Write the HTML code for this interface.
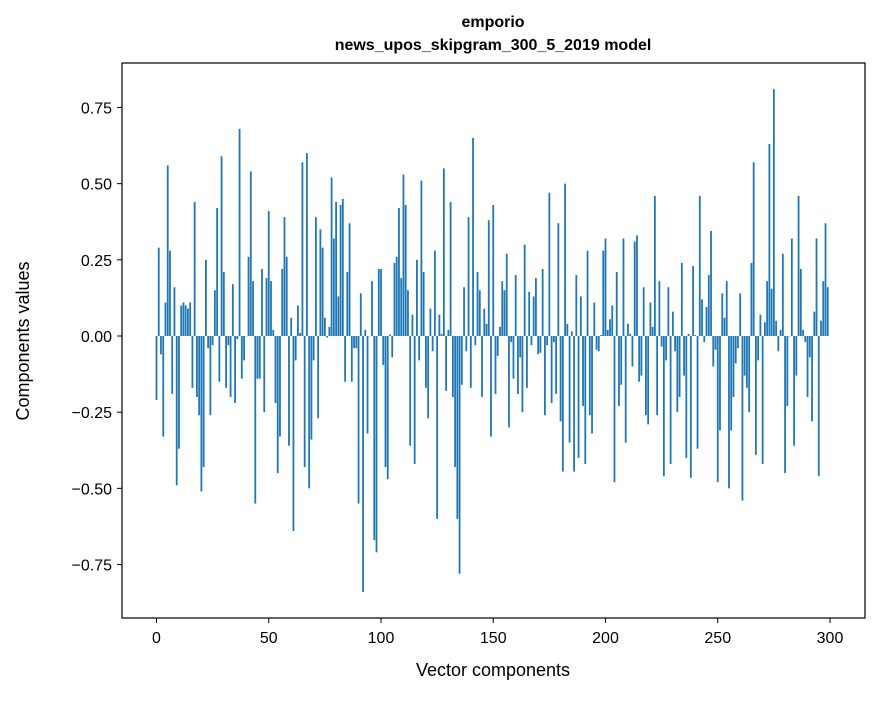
<!DOCTYPE html>
<html><head><meta charset="utf-8"><style>
body{margin:0;background:#fff;}
svg text{font-family:"Liberation Sans",sans-serif;fill:#000;}
</style></head><body>
<svg id="chart" width="880" height="696">
<rect x="0" y="0" width="880" height="696" fill="#fff"/>
<text x="493" y="27" text-anchor="middle" font-size="16" font-weight="bold">emporio</text>
<text x="493" y="50" text-anchor="middle" font-size="16" font-weight="bold">news_upos_skipgram_300_5_2019 model</text>
<g id="bars"></g>
<g id="axes"></g>
<rect x="122" y="63" width="743" height="555" fill="none" stroke="#000" stroke-width="1.2"/>
<text x="493" y="676" text-anchor="middle" font-size="18">Vector components</text>
<text x="0" y="0" transform="translate(29,341) rotate(-90)" text-anchor="middle" font-size="18">Components values</text>
</svg>
<script>
const values = [
-0.21,0.29,-0.06,-0.33,0.11,0.56,0.28,-0.19,0.16,-0.49,-0.37,0.10,0.11,0.10,0.09,0.11,-0.17,0.44,-0.20,-0.26,
-0.51,-0.43,0.25,-0.04,-0.26,-0.03,0.15,0.42,-0.15,0.59,0.21,-0.17,-0.03,-0.20,0.17,-0.22,-0.01,0.68,-0.14,-0.08,
0.0,0.26,0.54,0.18,-0.55,-0.14,-0.14,0.22,-0.25,0.19,0.41,0.18,0.02,-0.22,-0.45,-0.33,0.22,0.39,0.26,-0.36,
0.06,-0.64,-0.08,0.10,0.01,0.57,-0.43,0.60,-0.50,-0.34,-0.08,0.39,-0.27,0.35,0.29,0.06,-0.005,0.03,0.52,0.32,
0.44,0.13,0.43,0.45,-0.15,0.21,0.37,-0.15,-0.04,-0.04,-0.55,0.14,-0.84,0.02,-0.32,0.0,0.18,-0.67,-0.71,0.22,
0.22,-0.095,-0.43,-0.47,0.005,-0.07,0.24,0.26,0.42,0.19,0.53,0.43,0.15,-0.36,0.07,-0.42,0.25,-0.08,0.51,0.21,
-0.17,-0.27,0.09,-0.05,0.28,-0.60,0.07,0.007,0.55,-0.18,0.02,0.44,-0.20,-0.43,-0.60,-0.78,-0.16,0.16,-0.05,0.39,
-0.17,0.65,-0.03,0.21,0.15,-0.20,0.09,0.04,0.38,-0.33,0.43,-0.19,-0.065,0.03,0.18,0.15,0.27,-0.30,-0.02,-0.14,
0.20,-0.19,-0.07,-0.25,0.30,-0.17,0.145,-0.03,0.13,0.19,-0.06,-0.055,0.22,-0.26,-0.03,0.47,-0.22,-0.02,-0.19,0.37,
-0.28,-0.445,0.50,0.04,-0.35,0.015,-0.445,0.20,-0.40,0.13,-0.23,-0.42,0.28,-0.26,-0.32,0.11,-0.045,-0.05,0.003,0.28,
0.32,0.02,0.055,0.10,-0.48,0.21,-0.23,-0.16,0.32,-0.35,0.04,0.007,-0.10,0.31,0.33,-0.15,-0.13,0.16,-0.26,-0.29,
0.11,0.03,0.46,-0.26,0.18,-0.035,-0.46,-0.08,0.16,-0.42,0.08,-0.05,-0.25,-0.20,0.24,-0.13,-0.40,0.007,-0.465,0.23,
0.003,-0.37,0.46,0.12,-0.02,0.095,0.20,0.345,-0.10,-0.045,-0.48,-0.31,0.14,0.06,0.18,-0.50,-0.31,-0.20,-0.09,-0.04,
0.14,-0.54,-0.13,-0.17,-0.25,0.24,0.57,-0.39,-0.08,0.07,-0.42,0.045,0.18,0.63,0.155,0.81,0.05,-0.05,0.02,0.27,
-0.45,-0.23,0.0,0.32,-0.36,-0.13,0.46,0.22,0.02,-0.02,-0.20,-0.07,-0.28,0.08,0.32,-0.46,0.05,0.18,0.37,0.16
];
const xTicks = [0,50,100,150,200,250,300];
const yTicks = [-0.75,-0.5,-0.25,0,0.25,0.5,0.75];
const yTickLabels = ["\u22120.75","\u22120.50","\u22120.25","0.00","0.25","0.50","0.75"];

const NS="http://www.w3.org/2000/svg";
function xScale(i){return 156.5+2.245*i;}
function yScale(v){return 336-304.7*v;}
const barsG=document.getElementById('bars');
values.forEach(function(v,i){
  const r=document.createElementNS(NS,'rect');
  const w=2.245*0.8;
  const y0=yScale(0), y1=yScale(v);
  r.setAttribute('x',xScale(i)-w/2);
  r.setAttribute('y',Math.min(y0,y1));
  r.setAttribute('width',w);
  r.setAttribute('height',Math.max(Math.abs(y1-y0),0.3));
  r.setAttribute('fill','#1f77b4');
  
  
  barsG.appendChild(r);
});
const ax=document.getElementById('axes');
xTicks.forEach(function(t){
  const x=xScale(t);
  const l=document.createElementNS(NS,'line');
  l.setAttribute('x1',x);l.setAttribute('x2',x);l.setAttribute('y1',618);l.setAttribute('y2',623);
  l.setAttribute('stroke','#000');
  
  
  ax.appendChild(l);
  const tx=document.createElementNS(NS,'text');
  tx.setAttribute('x',x);tx.setAttribute('y',643);tx.setAttribute('text-anchor','middle');tx.setAttribute('font-size','16');
  tx.textContent=t;
  
  
  ax.appendChild(tx);
});
yTicks.forEach(function(t,k){
  const y=yScale(t);
  const l=document.createElementNS(NS,'line');
  l.setAttribute('x1',117);l.setAttribute('x2',122);l.setAttribute('y1',y);l.setAttribute('y2',y);
  l.setAttribute('stroke','#000');
  
  
  ax.appendChild(l);
  const tx=document.createElementNS(NS,'text');
  tx.setAttribute('x',112);tx.setAttribute('y',y+6);tx.setAttribute('text-anchor','end');tx.setAttribute('font-size','16');
  tx.textContent=yTickLabels[k];
  
  
  ax.appendChild(tx);
});
</script>
</body></html>
